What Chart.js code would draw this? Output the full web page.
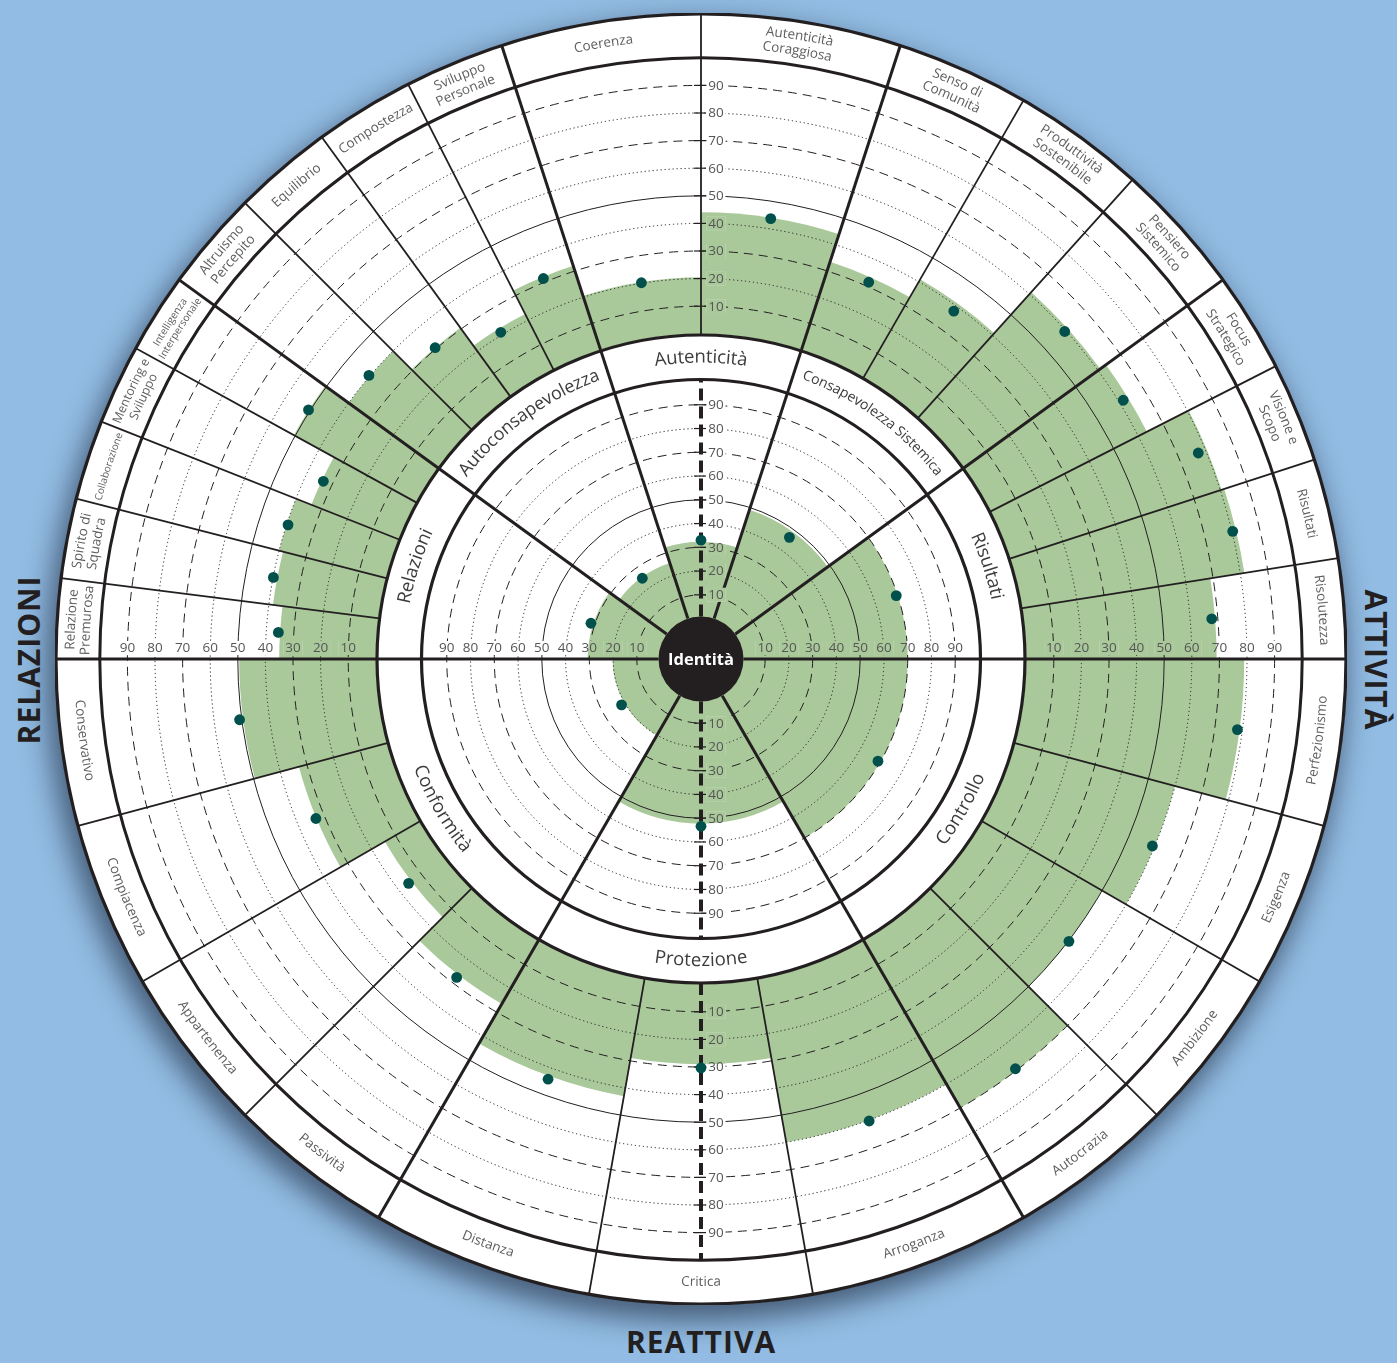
<!DOCTYPE html>
<html lang="it">
<head>
<meta charset="utf-8">
<title>Identità</title>
<script src="https://cdn.jsdelivr.net/npm/chart.js"></script>
<style>
  html, body { margin: 0; padding: 0; }
  body {
    width: 1397px; height: 1363px; position: relative; overflow: hidden;
    background: #92bce3; font-family: 'Open Sans', 'DejaVu Sans', sans-serif;
  }
  #disk {
    position: absolute; left: 55.5px; top: 13.5px; width: 1291px; height: 1291px;
    border-radius: 50%; background: #fff;
    box-shadow: -6px 12px 28px 4px rgba(20, 30, 50, 0.6);
  }
  #outer { position: absolute; left: 55px; top: 13px; }
  #inner { position: absolute; left: 371px; top: 329px; }
  .side {
    position: absolute; font-weight: 700; font-size: 30px; letter-spacing: 1px;
    color: #231f20; white-space: nowrap; transform-origin: center;
  }
  #relazioni { left: 28px; top: 660px; transform: translate(-50%, -50%) rotate(-90deg); }
  #attivita { left: 1376px; top: 660px; transform: translate(-50%, -50%) rotate(90deg); }
  #reattiva { left: 701px; top: 1341px; transform: translate(-50%, -50%); }
</style>
</head>
<body>
<div id="disk"></div>
<canvas id="outer" width="1292" height="1292"></canvas>
<canvas id="inner" width="660" height="660"></canvas>
<div class="side" id="relazioni">RELAZIONI</div>
<div class="side" id="attivita">ATTIVITÀ</div>
<div class="side" id="reattiva">REATTIVA</div>

<script>
// ---- data (clockwise, starting at the top-left edge of "Autenticità") ----
const innerLabels = ['Autenticità', 'Consapevolezza Sistemica', 'Risultati', 'Controllo',
  'Protezione', 'Conformità', 'Relazioni', 'Autoconsapevolezza'];
const innerShaded = [32.3, 49, 70, 70, 52.3, 20.2, 30.7, 25.5];
const innerDots = [33, 46.3, 69.4, 69, 53.4, 21.6, 31.7, 25];

const outerLabels = ['Coerenza', 'Autenticità Coraggiosa', 'Senso di Comunità',
  'Produttività Sostenibile', 'Pensiero Sistemico', 'Focus Strategico', 'Visione e Scopo',
  'Risultati', 'Risolutezza', 'Perfezionismo', 'Esigenza', 'Ambizione', 'Autocrazia',
  'Arroganza', 'Critica', 'Distanza', 'Passività', 'Appartenenza', 'Compiacenza',
  'Conservativo', 'Relazione Premurosa', 'Spirito di Squadra', 'Collaborazione',
  'Mentoring e Sviluppo', 'Intelligenza Interpersonale', 'Altruismo Percepito',
  'Equilibrio', 'Compostezza', 'Sviluppo Personale'];
// index into innerLabels for every outer category
const outerGroup = [0, 0, 1, 1, 1, 2, 2, 2, 2, 3, 3, 3, 3, 4, 4, 4, 5, 5, 5, 5,
  6, 6, 6, 6, 6, 7, 7, 7, 7];
const outerShaded = [20.5, 44, 33.5, 41, 61, 63.5, 80.5, 81.5, 69, 79, 60, 50, 70, 60, 29,
  43, 26.5, 14.5, 33, 49.5, 35, 38.5, 40, 34, 50.5, 40, 30.5, 22.5, 32];
const outerDots = [20.2, 43.7, 31.6, 38, 59.5, 61.6, 77.2, 80.3, 67.8, 78.2, 59.2, 50.2,
  69.3, 60.3, 30.3, 44.2, 27.6, 15.7, 33.2, 50.8, 35.6, 39.9, 39.5, 33.4, 50.6, 40.4,
  30.5, 21, 31.4];

const ringTicks = [10, 20, 30, 40, 50, 60, 70, 80, 90];

// ---- layout ----
const GROUP_SPAN = [36, 36, 36, 60, 60, 60, 36, 36];   // degrees of each inner sector
const OUT_ZERO = 325.2, OUT_UNIT = 2.76;   // outer ring: radius of 0, px per point
const IN_ZERO = 40.4, IN_UNIT = 2.376;     // inner disc
const BAND_OUT = 645, RING_IN = 324, IN_BAND_IN = 279.5, HUB = 42.5;
const GREEN = '#aac99b', DOT = '#01504b', INK = '#231f20', GREY = '#555';
const FONT = "'Open Sans', 'DejaVu Sans', sans-serif";
const TAU = Math.PI * 2;

const groupCount = GROUP_SPAN.map((_, g) => outerGroup.filter(x => x === g).length);
const outerSpan = outerGroup.map(g => GROUP_SPAN[g] / groupCount[g]);

function ringDash(v) {
  if (v === 50) return [];
  return v % 20 === 0 ? [1.2, 2.8] : [9, 6];
}

function radialScale(zero, unit, size) {
  return {
    min: -zero / unit,
    max: (size / 2 - zero) / unit,
    startAngle: -18,
    ticks: { display: false },
    afterBuildTicks: s => { s.ticks = ringTicks.map(v => ({ value: v })); },
    grid: { z: 1, circular: true, color: INK, lineWidth: 1 },
    border: { dash: c => ringDash(c.tick ? c.tick.value : 50) },
    angleLines: { display: false },
    pointLabels: { display: false }
  };
}

function spoke(ctx, cx, cy, ang, r1, r2, lw, dash) {
  ctx.save();
  ctx.strokeStyle = INK;
  ctx.lineWidth = lw;
  ctx.setLineDash(dash || []);
  ctx.beginPath();
  ctx.moveTo(cx + Math.cos(ang) * r1, cy + Math.sin(ang) * r1);
  ctx.lineTo(cx + Math.cos(ang) * r2, cy + Math.sin(ang) * r2);
  ctx.stroke();
  ctx.restore();
}

function ring(ctx, cx, cy, r, lw) {
  ctx.save();
  ctx.strokeStyle = INK;
  ctx.lineWidth = lw;
  ctx.beginPath();
  ctx.arc(cx, cy, r, 0, TAU);
  ctx.stroke();
  ctx.restore();
}

// text bent along a circle; flip = bottom half (reads with tops towards the centre)
function arcText(ctx, text, cx, cy, r, mid, flip) {
  const total = ctx.measureText(text).width / r;
  let a = flip ? mid + total / 2 : mid - total / 2;
  for (const ch of text) {
    const cw = ctx.measureText(ch).width / r;
    const ca = flip ? a - cw / 2 : a + cw / 2;
    ctx.save();
    ctx.translate(cx + Math.cos(ca) * r, cy + Math.sin(ca) * r);
    ctx.rotate(flip ? ca - Math.PI / 2 : ca + Math.PI / 2);
    ctx.fillText(ch, 0, 0);
    ctx.restore();
    a = flip ? a - cw : a + cw;
  }
}

function bandLabel(ctx, lines, cx, cy, r, mid, span, size, weight, color) {
  const norm = ((mid % TAU) + TAU) % TAU;
  const flip = norm > 0 && norm < Math.PI;
  ctx.font = `${weight} ${size}px ${FONT}`;
  const widest = Math.max(...lines.map(l => ctx.measureText(l).width));
  const room = span * r * 0.9;
  if (widest > room) size = size * room / widest;
  ctx.font = `${weight} ${size}px ${FONT}`;
  ctx.fillStyle = color;
  ctx.textAlign = 'center';
  ctx.textBaseline = 'middle';
  const lh = size * 1.12;
  lines.forEach((l, k) => {
    const off = (k - (lines.length - 1) / 2) * lh;
    arcText(ctx, l, cx, cy, flip ? r + off : r - off, mid, flip);
  });
}

function shadeAt(arcs, values, ang) {
  for (let i = 0; i < arcs.length; i++) {
    const a = arcs[i];
    const d = (((ang - a.startAngle) % TAU) + TAU) % TAU;
    if (d < a.endAngle - a.startAngle) return values[i];
  }
  return 0;
}

// tick label on a small backdrop that repeats whatever lies below it (white or green)
function tickLabel(ctx, text, x, y, cx, cy, rShade) {
  ctx.font = `400 13.5px ${FONT}`;
  const w = ctx.measureText(text).width;
  ctx.save();
  ctx.beginPath();
  ctx.rect(x - w / 2 - 2, y - 7, w + 4, 14);
  ctx.clip();
  ctx.fillStyle = '#fff';
  ctx.fillRect(x - w / 2 - 2, y - 7, w + 4, 14);
  ctx.fillStyle = GREEN;
  ctx.beginPath();
  ctx.arc(cx, cy, rShade, 0, TAU);
  ctx.fill();
  ctx.restore();
  ctx.fillStyle = GREY;
  ctx.textAlign = 'center';
  ctx.textBaseline = 'middle';
  ctx.fillText(text, x, y + 0.5);
}

// ticks on both axes of a ring
function axisTicks(ctx, chart, shaded) {
  const s = chart.scales.r, arcs = chart.getDatasetMeta(0).data;
  const cx = s.xCenter, cy = s.yCenter;
  const rs = ang => s.getDistanceFromCenterForValue(shadeAt(arcs, shaded, ang));
  const up = rs(-Math.PI / 2 + 0.02), down = rs(Math.PI / 2 - 0.02);
  const left = rs(Math.PI + 0.02), right = rs(-0.02);
  ringTicks.forEach(v => {
    const r = s.getDistanceFromCenterForValue(v);
    [[cy - r, up], [cy + r, down]].forEach(([y, rShade]) => {
      ctx.save();
      ctx.strokeStyle = INK;
      ctx.lineWidth = 1.2;
      ctx.beginPath();
      ctx.moveTo(cx - 7, y);
      ctx.lineTo(cx + 5, y);
      ctx.stroke();
      ctx.restore();
      tickLabel(ctx, String(v), cx + 15, y, cx, cy, rShade);
    });
    tickLabel(ctx, String(v), cx - r, cy - 11, cx, cy, left);
    tickLabel(ctx, String(v), cx + r, cy - 11, cx, cy, right);
  });
}

function dots(ctx, chart, values) {
  const s = chart.scales.r, arcs = chart.getDatasetMeta(0).data;
  ctx.save();
  ctx.fillStyle = DOT;
  arcs.forEach((a, i) => {
    const m = (a.startAngle + a.endAngle) / 2;
    const r = s.getDistanceFromCenterForValue(values[i]);
    ctx.beginPath();
    ctx.arc(s.xCenter + Math.cos(m) * r, s.yCenter + Math.sin(m) * r, 5.4, 0, TAU);
    ctx.fill();
  });
  ctx.restore();
}

const outerDecor = {
  id: 'outerDecor',
  afterDraw(chart) {
    const ctx = chart.ctx, s = chart.scales.r, arcs = chart.getDatasetMeta(0).data;
    const cx = s.xCenter, cy = s.yCenter;
    const edge = s.getDistanceFromCenterForValue(100);
    arcs.forEach((a, i) => {
      const first = i === 0 || outerGroup[i] !== outerGroup[i - 1];
      spoke(ctx, cx, cy, a.startAngle, RING_IN, BAND_OUT, first ? 3 : 1.8);
    });
    spoke(ctx, cx, cy, Math.PI / 2, RING_IN, edge, 4, [12, 6]);
    ring(ctx, cx, cy, edge, 3);
    ring(ctx, cx, cy, BAND_OUT, 3.2);
    arcs.forEach((a, i) => {
      const words = outerLabels[i].split(' ');
      const lines = words.length > 1
        ? [words.slice(0, -1).join(' '), words[words.length - 1]] : [outerLabels[i]];
      bandLabel(ctx, lines, cx, cy, (edge + BAND_OUT) / 2, (a.startAngle + a.endAngle) / 2,
        a.endAngle - a.startAngle, 13.5, 400, '#5e5e5e');
    });
    axisTicks(ctx, chart, outerShaded);
    dots(ctx, chart, outerDots);
  }
};

const innerDecor = {
  id: 'innerDecor',
  beforeDraw(chart) {
    const ctx = chart.ctx, s = chart.scales.r;
    ctx.save();
    ctx.fillStyle = '#fff';
    ctx.beginPath();
    ctx.arc(s.xCenter, s.yCenter, RING_IN + 1, 0, TAU);
    ctx.fill();
    ctx.restore();
  },
  afterDraw(chart) {
    const ctx = chart.ctx, s = chart.scales.r, arcs = chart.getDatasetMeta(0).data;
    const cx = s.xCenter, cy = s.yCenter;
    arcs.forEach(a => spoke(ctx, cx, cy, a.startAngle, HUB, RING_IN, 3));
    spoke(ctx, cx, cy, -Math.PI / 2, HUB, IN_BAND_IN, 4, [12, 6]);
    spoke(ctx, cx, cy, Math.PI / 2, HUB, IN_BAND_IN, 4, [12, 6]);
    ring(ctx, cx, cy, IN_BAND_IN, 3.2);
    ring(ctx, cx, cy, RING_IN, 3.2);
    arcs.forEach((a, i) => {
      bandLabel(ctx, [innerLabels[i]], cx, cy, (IN_BAND_IN + RING_IN) / 2,
        (a.startAngle + a.endAngle) / 2, a.endAngle - a.startAngle, 18.5, 400, '#3c3c3c');
    });
    axisTicks(ctx, chart, innerShaded);
    dots(ctx, chart, innerDots);
    // hub
    ctx.save();
    ctx.fillStyle = INK;
    ctx.beginPath();
    ctx.arc(cx, cy, HUB, 0, TAU);
    ctx.fill();
    ctx.fillStyle = '#fff';
    ctx.font = `700 16.5px ${FONT}`;
    ctx.textAlign = 'center';
    ctx.textBaseline = 'middle';
    ctx.fillText('Identità', cx, cy + 1);
    ctx.restore();
  }
};

const common = {
  responsive: false,
  animation: false,
  events: [],
  layout: { padding: 0 },
  plugins: { legend: { display: false }, tooltip: { enabled: false } }
};

new Chart(document.getElementById('outer'), {
  type: 'polarArea',
  data: {
    labels: outerLabels,
    datasets: [{
      data: outerShaded,
      backgroundColor: GREEN,
      borderWidth: 0,
      angle: c => outerSpan[c.dataIndex]
    }]
  },
  options: Object.assign({}, common, {
    scales: { r: radialScale(OUT_ZERO, OUT_UNIT, 1292) }
  }),
  plugins: [outerDecor]
});

new Chart(document.getElementById('inner'), {
  type: 'polarArea',
  data: {
    labels: innerLabels,
    datasets: [{
      data: innerShaded,
      backgroundColor: GREEN,
      borderWidth: 0,
      angle: c => GROUP_SPAN[c.dataIndex]
    }]
  },
  options: Object.assign({}, common, {
    scales: { r: radialScale(IN_ZERO, IN_UNIT, 660) }
  }),
  plugins: [innerDecor]
});
</script>
</body>
</html>
